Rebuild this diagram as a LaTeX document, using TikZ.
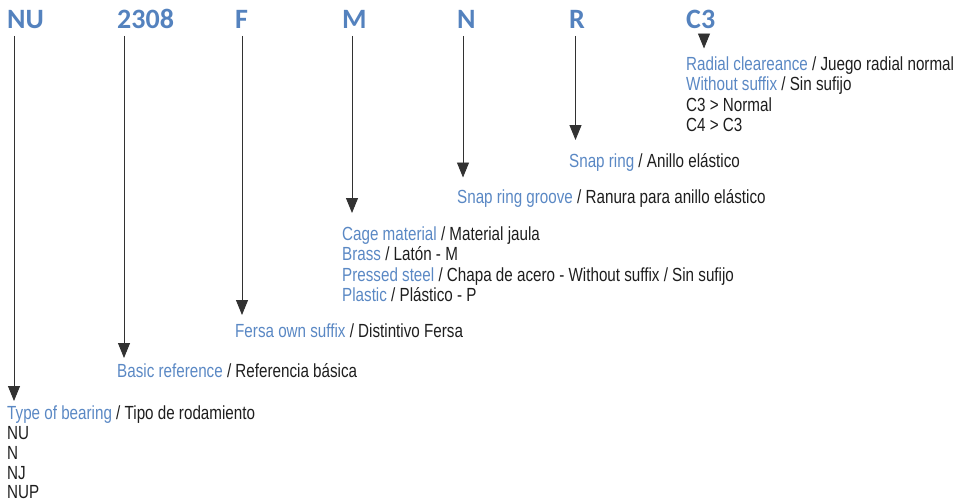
\documentclass[tikz,border=0pt]{standalone}
\usepackage{fontspec}
\usetikzlibrary{arrows.meta}
\newfontfamily\bodyfont[FakeStretch=0.80]{Liberation Sans}
\newfontfamily\headfont{Carlito}
\definecolor{headblue}{RGB}{84,130,190}
\definecolor{txtblue}{RGB}{90,136,196}
\definecolor{txtblack}{RGB}{30,30,30}
\definecolor{linegray}{RGB}{50,50,50}
\tikzset{
  head/.style={anchor=base west,inner sep=0pt,font=\headfont\bfseries\fontsize{28}{30}\selectfont,text=headblue},
  lbl/.style={anchor=base west,inner sep=0pt,font=\bodyfont\fontsize{19}{21}\selectfont,text=txtblack},
  arr/.style={draw=linegray,line width=0.9pt,-{Triangle[width=12pt,length=15pt]}},
}
\newcommand{\en}[1]{\textcolor{txtblue}{#1}}
\begin{document}
\begin{tikzpicture}[x=1pt,y=-1pt]
\useasboundingbox (0,0) rectangle (959,501);
% headers
\node[head] (hNU) at (7,28.3) {NU};
\node[head] (h2308) at (117,28.3) {2308};
\node[head] (hF) at (235,28.3) {F};
\node[head] (hM) at (342,28.3) {M};
\node[head] (hN) at (457,28.3) {N};
\node[head] (hR) at (569,28.3) {R};
\node[head] (hC) at (686,28.3) {C3};
% tips
\coordinate (tNU) at (14,401);
\coordinate (t2308) at (124,358);
\coordinate (tF) at (242,315);
\coordinate (tM) at (352,213);
\coordinate (tN) at (463,177.5);
\coordinate (tR) at (575.5,140);
\coordinate (tC) at (704,48.5);
% arrows
\draw[arr] ([yshift=-7.5pt]hNU.base -| tNU) -- (tNU);
\draw[arr] ([yshift=-7.5pt]h2308.base -| t2308) -- (t2308);
\draw[arr] ([yshift=-7.5pt]hF.base -| tF) -- (tF);
\draw[arr] ([yshift=-7.5pt]hM.base -| tM) -- (tM);
\draw[arr] ([yshift=-7.5pt]hN.base -| tN) -- (tN);
\draw[arr] ([yshift=-7.5pt]hR.base -| tR) -- (tR);
\draw[arr] ([yshift=-7.5pt]hC.base -| tC) -- (tC);
% C3 block
\node[lbl] (c1) at (686,70) {\en{Radial cleareance} / Juego radial normal};
\node[lbl] (c2) at (686,90.5) {\en{Without suffix} / Sin sufijo};
\node[lbl] (c3) at (686,111) {C3 > Normal};
\node[lbl] (c4) at (686,131.5) {C4 > C3};
% R
\node[lbl] (r1) at (569,167.5) {\en{Snap ring} / Anillo elástico};
% N
\node[lbl] (n1) at (457,203.5) {\en{Snap ring groove} / Ranura para anillo elástico};
% M block
\node[lbl] (m1) at (342,240) {\en{Cage material} / Material jaula};
\node[lbl] (m2) at (342,260.5) {\en{Brass} / Latón - M};
\node[lbl] (m3) at (342,281) {\en{Pressed steel} / Chapa de acero - Without suffix / Sin sufijo};
\node[lbl] (m4) at (342,301.5) {\en{Plastic} / Plástico - P};
% F
\node[lbl] (f1) at (235,337.5) {\en{Fersa own suffix} / Distintivo Fersa};
% 2308
\node[lbl] (b1) at (117,377.5) {\en{Basic reference} / Referencia básica};
% NU block
\node[lbl] (u1) at (7,419) {\en{Type of bearing} / Tipo de rodamiento};
\node[lbl] (u2) at (7,439) {NU};
\node[lbl] (u3) at (7,459) {N};
\node[lbl] (u4) at (7,479) {NJ};
\node[lbl] (u5) at (7,498.5) {NUP};
\end{tikzpicture}
\end{document}
